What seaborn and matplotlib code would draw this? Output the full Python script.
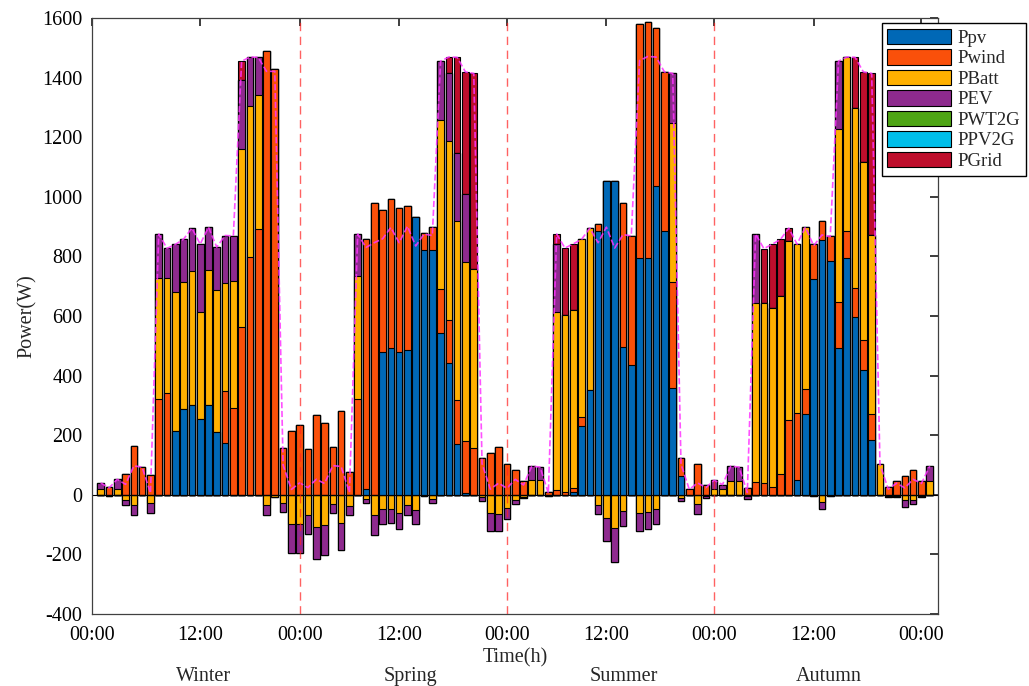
import matplotlib
matplotlib.use("Agg")
import matplotlib.pyplot as plt
import matplotlib.transforms as mtransforms
from matplotlib.patches import Patch
import pandas as pd
import seaborn as sns

# --- data (hourly samples, four representative days) ---------------------- #
hours = list(range(1, 102))
seasons = ["Winter", "Spring", "Summer", "Autumn"]
season_pos = [13.4, 38.4, 64.1, 88.8]
day_breaks = [25, 50, 75]
tick_pos = [0, 13, 25, 37, 50, 62, 75, 87, 100]
tick_labels = ["00:00", "12:00"] * 4 + ["00:00"]

ppv = [0, 0, 0, 0, 0, 0, 0, 0, 0, 213, 289, 303, 255, 303, 211, 175, 0, 0, 0, 0, 0, 0, 0, 0, 0,
       0, 0, 0, 0, 0, 0, 0, 21, 0, 478, 494, 480, 485, 933, 821, 821, 543, 441, 171, 5, 0, 0, 0, 0, 0,
       0, 0, 0, 0, 0, 0, 0, 11, 232, 353, 885, 1053, 1053, 497, 435, 793, 796, 1037, 885, 359, 64, 0, 0, 0, 0,
       0, 0, 0, 0, 0, 0, 0, 0, 0, 49, 272, 724, 854, 784, 494, 794, 598, 420, 185, 0, 0, 0, 0, 0, 0, 0]
pwind = [0, 26, 0, 69, 165, 93, 66, 320, 342, 0, 0, 0, 0, 0, 0, 173, 291, 564, 797, 892, 1488, 1429, 157, 213, 235,
         154, 267, 241, 160, 280, 76, 320, 836, 980, 478, 498, 482, 483, 0, 58, 78, 147, 147, 147, 174, 158, 125, 141, 159, 103,
         84, 45, 0, 0, 10, 15, 9, 13, 29, 0, 25, 0, 0, 482, 434, 787, 791, 530, 534, 356, 61, 18, 104, 34, 0,
         0, 0, 0, 23, 43, 40, 26, 69, 252, 227, 82, 117, 65, 85, 154, 91, 97, 98, 85, 0, 27, 47, 63, 84, 46, 0]
pbatt = [18, -3, 20, -17, -33, 0, -29, 406, 384, 467, 424, 449, 358, 451, 476, 362, 425, 597, 509, 448, -33, -8, -27, -98, -98,
         -69, -107, -101, -32, -93, -36, 414, -13, -67, -47, -47, -60, -34, -50, -4, -13, 567, 600, 601, 603, 599, -9, -60, -64, -43,
         -17, -6, 49, 49, -4, 599, 596, 596, 596, 542, -33, -78, -110, -53, 0, -60, -57, -47, 0, 533, -12, 0, -32, -5, 20,
         18, 47, 47, -5, 600, 603, 601, 598, 599, 565, 544, -5, -23, -3, 581, 584, 603, 599, 603, 102, -4, -4, -19, -16, -5, 46]
pev = [22, 0, 32, -17, -35, 0, -31, 149, 101, 160, 145, 143, 228, 144, 144, 160, 153, 231, 163, 128, -34, 0, -30, -97, -97,
       -61, -108, -102, -30, -92, -32, 141, -14, -67, -50, -48, -56, -33, -48, 0, -16, 198, 228, 227, 227, 0, -11, -62, -56, -38,
       -15, -6, 47, 44, 0, 227, 0, 0, 0, 0, -31, -77, -115, -53, 0, -63, -59, -51, 0, 166, -10, 0, -32, -5, 29,
       16, 49, 46, -10, 232, 0, 0, 0, 0, 0, 0, 0, -24, 0, 226, 0, 0, 0, 0, 0, -4, -4, -21, -16, -3, 50]
pwt2g = [0] * 101
ppv2g = [0] * 101
pgrid = [0, 0, 0, 0, 0, 0, 0, 0, 0, 0, 0, 0, 0, 0, 0, 0, 0, 63, 0, 0, 0, 0, 0, 0, 0,
         0, 0, 0, 0, 0, 0, 0, 0, 0, 0, 0, 0, 0, 0, 0, 0, 0, 53, 322, 410, 657, 0, 0, 0, 0,
         0, 0, 0, 0, 0, 34, 223, 222, 0, 0, 0, 0, 0, 0, 0, 0, 0, 0, 0, 0, 0, 0, 0, 0, 0,
         0, 0, 0, 0, 0, 183, 214, 190, 44, 0, 0, 0, 0, 0, 0, 0, 170, 302, 541, 0, 0, 0, 0, 0, 0, 0]

names = ["Ppv", "Pwind", "PBatt", "PEV", "PWT2G", "PPV2G", "PGrid"]
colors = {
    "Ppv": "#0068B6", "Pwind": "#FA500A", "PBatt": "#FFB000", "PEV": "#8E2A8E",
    "PWT2G": "#4EA514", "PPV2G": "#00BEEA", "PGrid": "#BE0E2C",
}

df = pd.DataFrame({"hour": hours, "Ppv": ppv, "Pwind": pwind, "PBatt": pbatt,
                   "PEV": pev, "PWT2G": pwt2g, "PPV2G": ppv2g, "PGrid": pgrid})

sns.set_theme(style="white")
plt.rcParams["font.family"] = ["Liberation Serif", "DejaVu Serif"]
plt.rcParams["font.size"] = 14
plt.rcParams["axes.unicode_minus"] = False

fig = plt.figure(figsize=(10.29, 6.86), dpi=100)
ax = fig.add_axes([92 / 1029, 1 - 614 / 686, 846 / 1029, 596 / 686])

# stacked bars: positive parts upward, negative parts downward (cumulative,
# drawn top layer first so lower layers paint over)
pos = df[names].clip(lower=0).cumsum(axis=1)
neg = df[names].clip(upper=0).cumsum(axis=1)
for name in reversed(names):
    for cum in (pos, neg):
        sns.barplot(x=df["hour"], y=cum[name], native_scale=True, color=colors[name],
                    saturation=1, width=0.8, edgecolor="black", linewidth=0.8,
                    errorbar=None, ax=ax, zorder=2)

ax.axhline(0, color="black", lw=0.8, zorder=1.5)

# load balance curve
load = df[names].sum(axis=1)
sns.lineplot(x=df["hour"], y=load, color="#FF33FF", linestyle="--", linewidth=1.2,
             alpha=0.85, ax=ax, zorder=3)

for b in day_breaks:
    ax.axvline(b, color="#FF2020", ls=(0, (6, 4)), lw=1.0, alpha=0.7, zorder=3)

ax.set_xlim(-0.05, 102.0)
ax.set_ylim(-400, 1600)
ax.set_xticks(tick_pos)
ax.set_xticklabels(tick_labels)
ax.set_yticks(range(-400, 1601, 200))
ax.tick_params(direction="in", length=6, top=True, right=True, labelsize=14.5,
               colors="#262626", labelcolor="black")
ax.tick_params(axis="x", pad=9)
ax.tick_params(axis="y", pad=7)
for s in ax.spines.values():
    s.set_color("#404040")
    s.set_linewidth(0.9)
ax.set_xlabel("Time(h)", fontsize=14.5, labelpad=2)
ax.set_ylabel("Power(W)", fontsize=14.5, labelpad=4)

trans = mtransforms.blended_transform_factory(ax.transData, fig.transFigure)
for lbl, xp in zip(seasons, season_pos):
    ax.text(xp, 5 / 686, lbl, transform=trans, ha="center", va="baseline", fontsize=14.5)

handles = [Patch(facecolor=colors[n], edgecolor="black", linewidth=0.8, label=n) for n in names]
fig.legend(handles=handles, loc="upper right", bbox_to_anchor=(1026 / 1029, 1 - 23 / 686),
           borderaxespad=0, frameon=True, fancybox=False, edgecolor="black", framealpha=1,
           handlelength=3.4, handleheight=0.9, borderpad=0.3, labelspacing=0.12,
           handletextpad=0.35, fontsize=13.5)

fig.savefig("out.png", dpi=100)
